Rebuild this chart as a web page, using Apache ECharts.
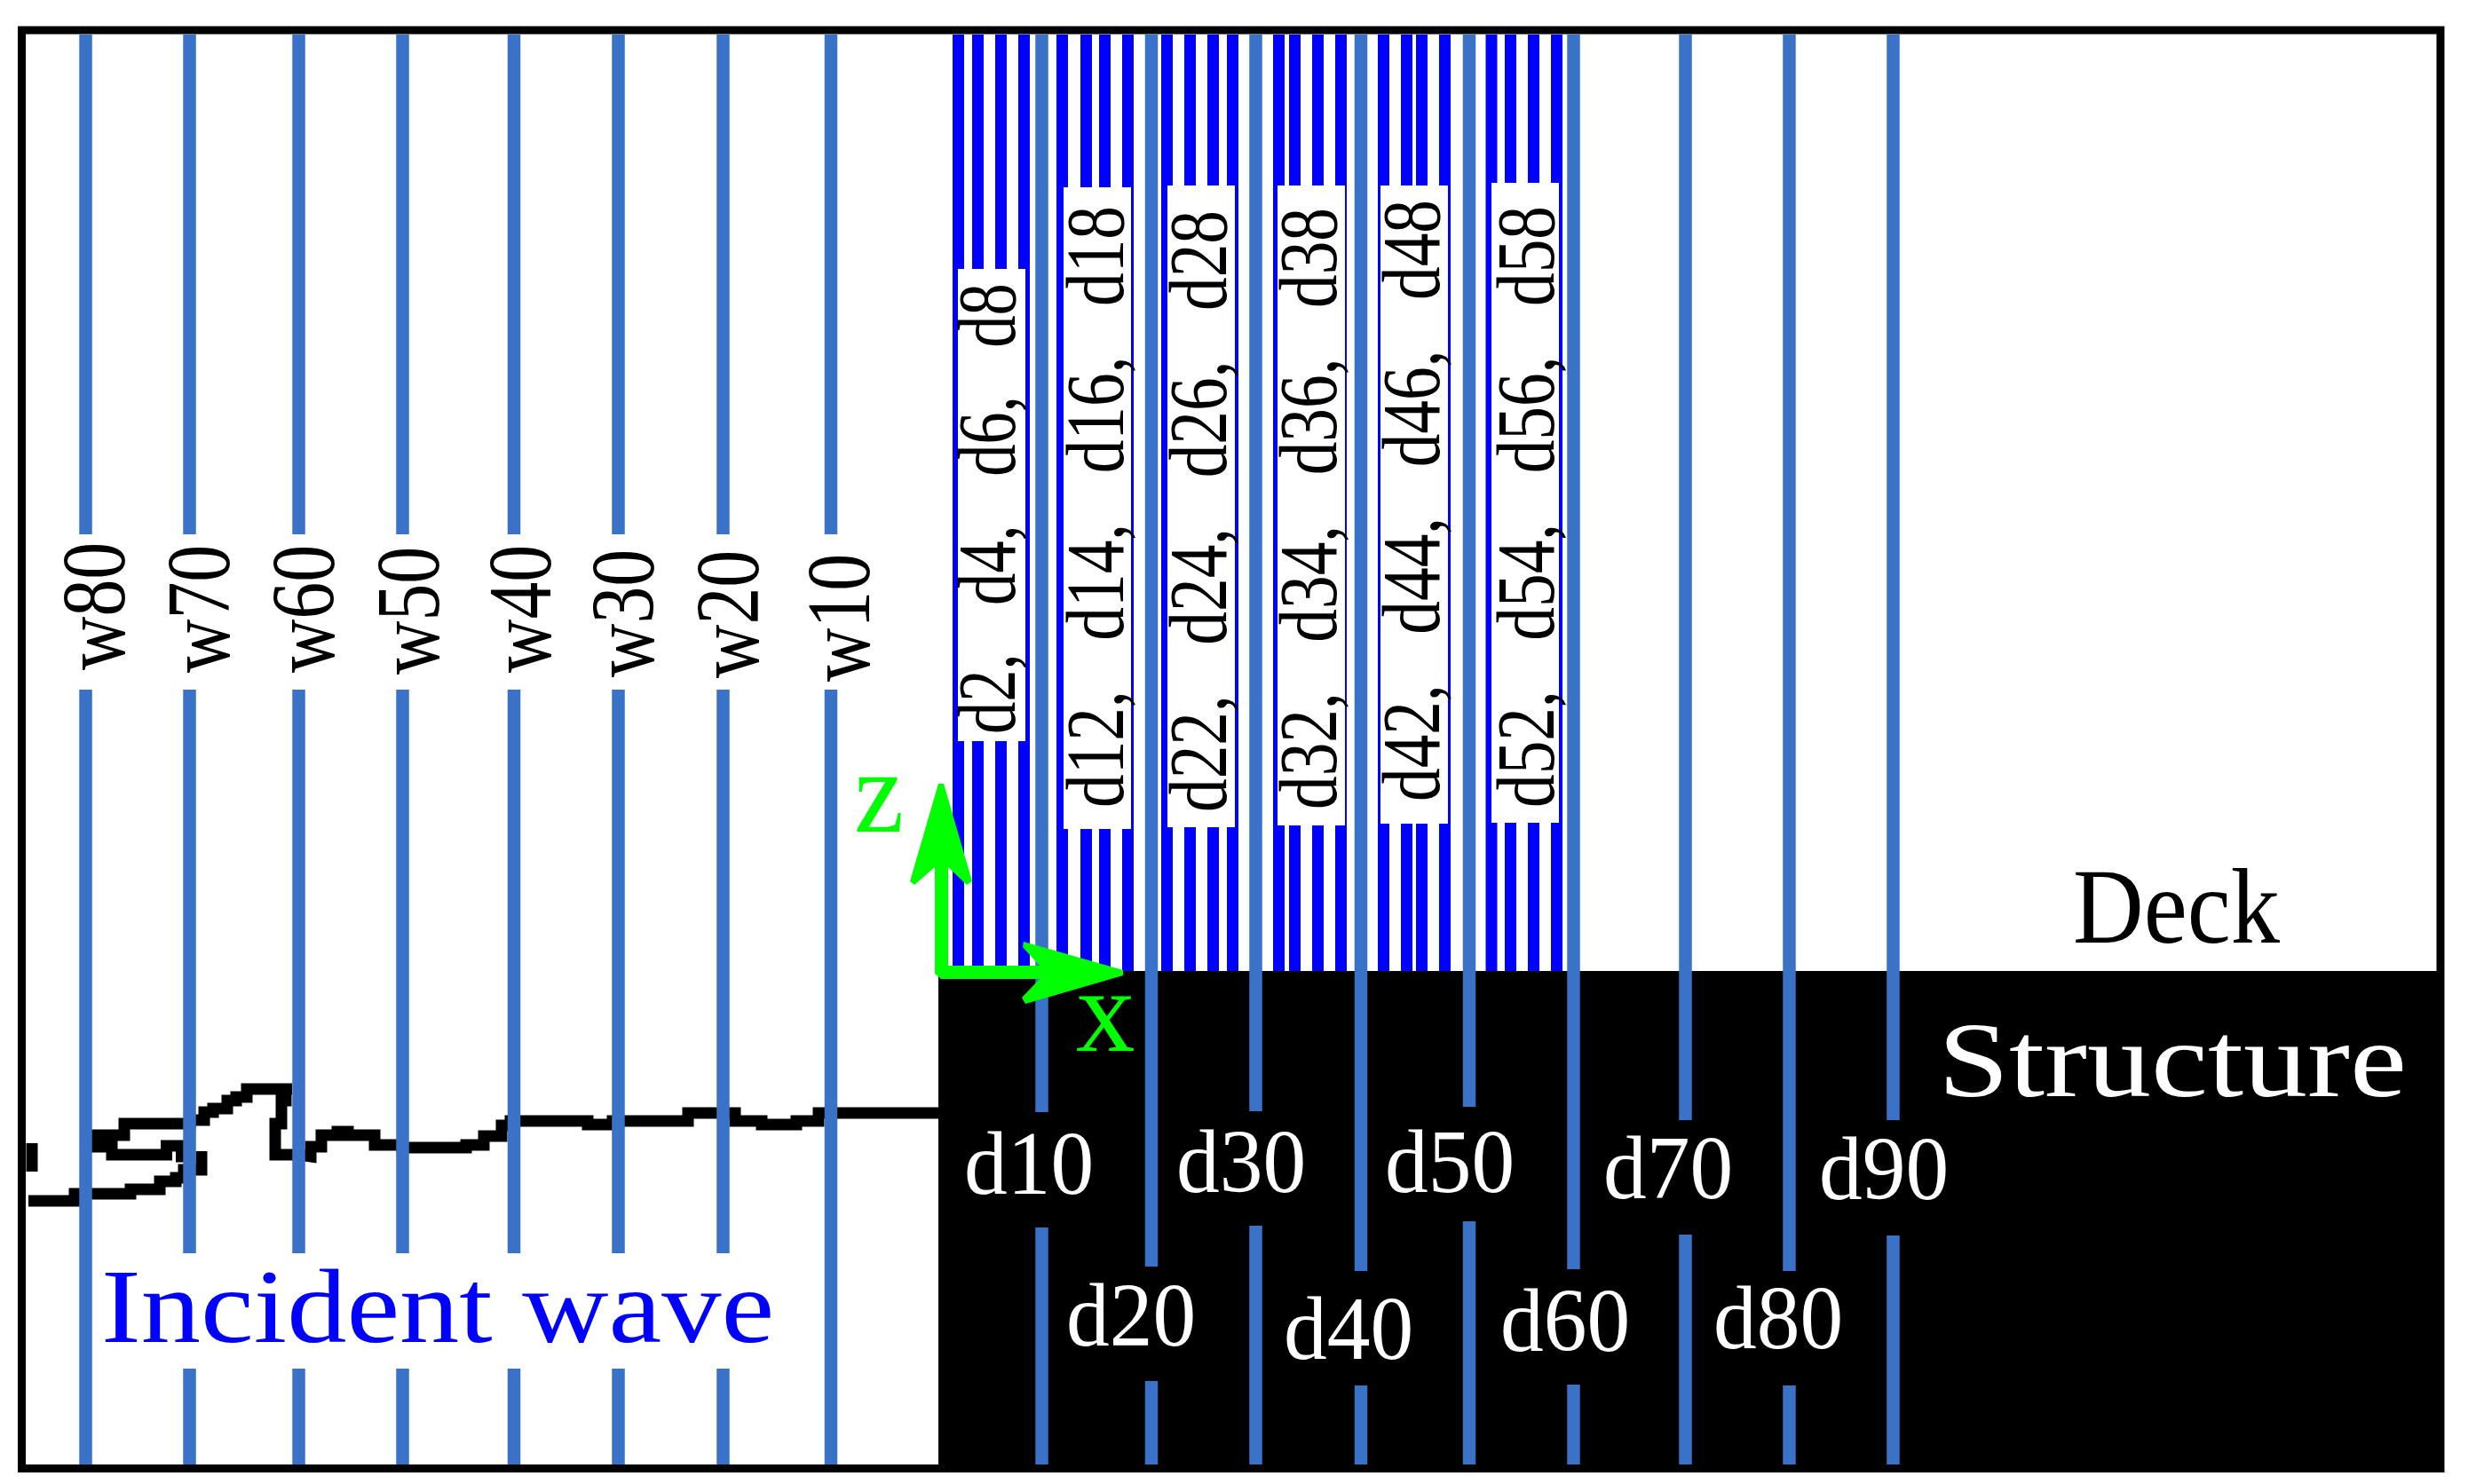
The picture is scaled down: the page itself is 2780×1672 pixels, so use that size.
<!DOCTYPE html>
<html>
<head>
<meta charset="utf-8">
<style>html,body{margin:0;padding:0;background:#fff}#main{width:2780px;height:1672px}</style>
<script src="https://cdn.jsdelivr.net/npm/echarts@6/dist/echarts.min.js"></script>
</head>
<body>
<div id="main"></div>
<script>
// wave gauges, left to right
var wNames = ['w80', 'w70', 'w60', 'w50', 'w40', 'w30', 'w20', 'w10'];
var wX = [96.5, 213.5, 336.5, 453.5, 579, 696.5, 814.5, 936];
var wBaseX = [141, 259, 377, 495, 621, 737, 855, 980];
var wStartY = [755, 758, 758, 760, 758, 763, 764, 768];

// deck gauges with a gap for their label
var dNames = ['d10', 'd20', 'd30', 'd40', 'd50', 'd60', 'd70', 'd80', 'd90'];
var dX = [1173.5, 1297, 1414.5, 1533, 1655, 1772.5, 1898.5, 2015.5, 2132.5];
var dGapTop = [1253, 1427, 1252, 1432, 1247, 1430, 1262, 1432, 1262];
var dGapBottom = [1383, 1556, 1381, 1561, 1376, 1560, 1391, 1561, 1392];
var dLeft = [1086, 1201, 1325, 1446, 1560, 1690, 1806, 1930, 2049];
var dBase = [1346, 1517, 1344, 1532, 1344, 1523, 1351, 1520, 1352];

// thin gauge groups above the deck
var groupNames = ['d2, d4, d6, d8', 'd12, d14, d16, d18', 'd22, d24, d26, d28',
    'd32, d34, d36, d38', 'd42, d44, d46, d48', 'd52, d54, d56, d58'];
var thinX = [
    [1079.5, 1101.5, 1127.5, 1153.5],
    [1196.5, 1223.5, 1244.5, 1270.5],
    [1314.5, 1340.5, 1366.5, 1388.5],
    [1440.5, 1458.5, 1484.5, 1510.5],
    [1558.5, 1584.5, 1601.5, 1627.5],
    [1680, 1701.5, 1727.5, 1753.5]
];
var boxLeft = [1079, 1198, 1315, 1439, 1555, 1680];
var boxRight = [1155, 1274, 1391, 1515, 1631, 1756];
var boxTop = [303, 211, 209, 209, 209, 206];
var boxBottom = [835, 934, 932, 930, 928, 927];
var groupBase = [1144, 1266, 1382, 1506, 1622, 1751];
var groupStart = [827, 910, 915, 912, 903, 910];
var groupScale = [0.78, 0.81, 0.81, 0.81, 0.81, 0.81];

// free surface
var waveX = [32, 84, 84, 147, 147, 180, 180, 198, 198, 207, 207, 227, 227, null,
    36, 36, null,
    181, 207, null,
    198, 207, null,
    194, 126, 126, 104, 104, 140, 140, 214, 214, 230, 230, 240, 240, 256, 256, 266, 266, 278, 278, 329, null,
    322, 322, 317, 317, 310, 310, 337, 337, 350, 350, 362, 362, 380, 380, 392, 392, 422, 422, 453, 453,
    525, 525, 545, 545, 565, 565, 575, 575, 662, 662, 690, 690, 775, 775, 828, 828, 858, 858, 897, 897, 922, 922, 1057];
var waveY = [1353, 1353, 1345, 1345, 1340, 1340, 1331, 1331, 1327, 1327, 1318, 1318, 1297, null,
    1288, 1320, null,
    1291, 1291, null,
    1303, 1303, null,
    1301, 1301, 1292, 1292, 1279, 1279, 1266, 1266, 1262, 1262, 1253, 1253, 1249, 1249, 1240, 1240, 1236, 1236, 1227, 1227, null,
    1227, 1240, 1240, 1266, 1266, 1301, 1301, 1303, 1303, 1292, 1292, 1279, 1279, 1275, 1275, 1279, 1279, 1290, 1290, 1293,
    1293, 1290, 1290, 1280, 1280, 1268, 1268, 1263, 1263, 1267, 1267, 1263, 1263, 1254, 1254, 1263, 1263, 1267, 1267, 1263, 1263, 1254, 1254];

// arrow outline for the x and z axes
var arrowX = [1057, 1063, 1095, 1089, 1068, 1068, 1171, 1152, 1153, 1265, 1265, 1155, 1151, 1171, 1060, 1053, 1053, 1030, 1025];
var arrowY = [883, 883, 993, 997, 977, 1088, 1088, 1067, 1061, 1093, 1099, 1131, 1124, 1103, 1103, 1097, 977, 997, 993];

var GAUGE_TOP = 39, DECK_Y = 1094, BOTTOM = 1650;
var SERIF = '"Liberation Serif"';
var myChart = echarts.init(document.getElementById('main'));

function vSegments(list) {
    var out = [];
    list.forEach(function (s) {
        out.push([s[0], s[1]], [s[0], s[2]], [s[0], null]);
    });
    return out;
}

var wSegs = [], dSegs = [], thinSegs = [];
wX.forEach(function (x, i) {
    wSegs.push([x, GAUGE_TOP, 602]);
    // w10 and w80 run past the "Incident wave" text
    if (i === 0 || i === 7) {
        wSegs.push([x, 777, BOTTOM]);
    } else {
        wSegs.push([x, 777, 1412], [x, 1542, BOTTOM]);
    }
});
dX.forEach(function (x, i) {
    dSegs.push([x, GAUGE_TOP, dGapTop[i]], [x, dGapBottom[i], BOTTOM]);
});
thinX.forEach(function (g) {
    g.forEach(function (x) { thinSegs.push([x, GAUGE_TOP, DECK_Y]); });
});

var waveData = waveX.map(function (x, i) { return [x, waveY[i]]; });

// text rows: x, y, size, stretch along the text, colour, rotated or not
var texts = [];
function addText(text, x, y, size, sx, color, rot) {
    texts.push({text: text, x: x, y: y, size: size, sx: sx, color: color, rot: rot});
}
var MID = 0.27;
wNames.forEach(function (n, i) {
    addText(n, wBaseX[i] - MID * 102, wStartY[i], 102, 0.82, '#000', true);
});
dNames.forEach(function (n, i) {
    addText(n, dLeft[i], dBase[i] - MID * 101, 101, 0.965, '#fff', false);
});
groupNames.forEach(function (n, i) {
    // the original font is monospaced, so the gap after a comma is wider
    addText(n.replace(/, /g, ',   '), groupBase[i] - MID * 93, groupStart[i], 93, groupScale[i], '#000', true);
});
addText('Incident wave', 114, 1513 - MID * 118, 118, 1.14, '#0000ff', false);
addText('Deck', 2335, 1063 - MID * 120, 120, 0.92, '#000', false);
addText('Structure', 2183, 1236 - MID * 120, 120, 1.2, '#fff', false);
addText('z', 962, 938 - MID * 133, 133, 0.95, '#00ff00', false);
addText('x', 1212, 1185 - MID * 133, 133, 1, '#00ff00', false);

function rectRender(color, fill) {
    return function (params, api) {
        var p0 = api.coord([api.value(0), api.value(1)]);
        var p1 = api.coord([api.value(2), api.value(3)]);
        return {
            type: 'rect',
            shape: {x: p0[0], y: p0[1], width: p1[0] - p0[0], height: p1[1] - p0[1]},
            style: fill ? {fill: color} : {fill: 'none', stroke: color, lineWidth: 9}
        };
    };
}

function lineSeries(data, color, width, z) {
    return {
        type: 'line', data: data, symbol: 'none', z: z, silent: true, animation: false,
        connectNulls: false, clip: false,
        lineStyle: {color: color, width: width, cap: 'butt', join: 'miter'}
    };
}

var option = {
    animation: false,
    grid: {left: 0, right: 0, top: 0, bottom: 0},
    xAxis: {type: 'value', min: 0, max: 2780, show: false},
    yAxis: {type: 'value', min: 0, max: 1672, inverse: true, show: false},
    series: [
        {type: 'custom', z: 1, silent: true, renderItem: rectRender('#000', true),
            data: [[1057, DECK_Y, 2753, 1659]]},
        lineSeries(waveData, '#000', 13, 2),
        lineSeries(vSegments(thinSegs), '#0000ff', 13, 3),
        {type: 'custom', z: 4, silent: true, renderItem: rectRender('#fff', true),
            data: boxLeft.map(function (x, i) { return [x, boxTop[i], boxRight[i], boxBottom[i]]; })},
        lineSeries(vSegments(wSegs), '#3a72c8', 14.5, 5),
        lineSeries(vSegments(dSegs), '#3a72c8', 14.5, 5),
        {type: 'custom', z: 6, silent: true, renderItem: rectRender('#000', false),
            data: [[24.5, 34, 2749, 1654.5]]},
        {
            type: 'custom', z: 7, silent: true,
            data: arrowX.map(function (x, i) { return [x, arrowY[i]]; }),
            renderItem: function (params, api) {
                // whole outline drawn once from the first item
                if (params.dataIndex !== 0) return null;
                var pts = arrowX.map(function (x, i) { return api.coord([x, arrowY[i]]); });
                return {type: 'polygon', shape: {points: pts}, style: {fill: '#00ff00'}};
            }
        },
        {
            type: 'custom', z: 8, silent: true,
            data: texts.map(function (t) { return [t.x, t.y]; }),
            renderItem: function (params, api) {
                var t = texts[params.dataIndex];
                var p = api.coord([api.value(0), api.value(1)]);
                return {
                    type: 'text', x: p[0], y: p[1],
                    rotation: t.rot ? Math.PI / 2 : 0,
                    scaleX: t.sx, scaleY: 1,
                    style: {text: t.text, x: 0, y: 0, fontSize: t.size, fontFamily: SERIF,
                        fill: t.color, align: 'left', verticalAlign: 'middle'}
                };
            }
        }
    ]
};
myChart.setOption(option);
</script>
</body>
</html>
